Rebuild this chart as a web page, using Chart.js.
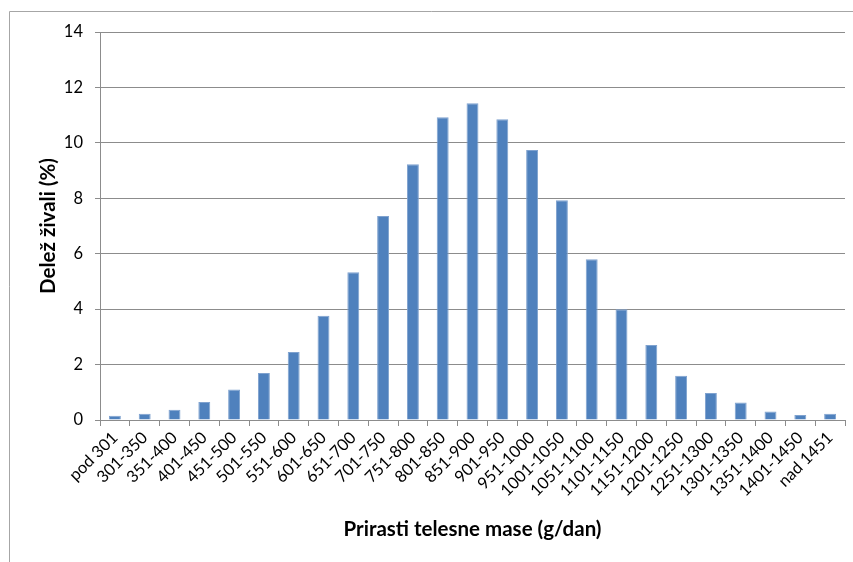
<!DOCTYPE html>
<html>
<head>
<meta charset="utf-8">
<script src="https://cdn.jsdelivr.net/npm/chart.js@4/dist/chart.umd.min.js"></script>
<style>
  html, body { margin: 0; padding: 0; background: #fff; }
  #wrap { width: 853px; height: 562px; position: relative; }
</style>
</head>
<body>
<div id="wrap"><canvas id="prirastChart"></canvas></div>
<script>
// razredi prirasta (g/dan) in delez zivali (%)
var categories = ["pod 301", "301-350", "351-400", "401-450", "451-500", "501-550",
    "551-600", "601-650", "651-700", "701-750", "751-800", "801-850", "851-900",
    "901-950", "951-1000", "1001-1050", "1051-1100", "1101-1150", "1151-1200",
    "1201-1250", "1251-1300", "1301-1350", "1351-1400", "1401-1450", "nad 1451"];
var shares = [0.15, 0.23, 0.37, 0.65, 1.1, 1.7, 2.45, 3.76, 5.33, 7.36, 9.23, 10.92,
    11.43, 10.85, 9.74, 7.93, 5.8, 4.0, 2.71, 1.6, 0.97, 0.63, 0.31, 0.18, 0.23];
var yTicks = [0, 2, 4, 6, 8, 10, 12, 14];

var font = "Lato, 'Open Sans', sans-serif";
var gridGray = "#8c8c8c";

// okvir okoli grafa (kot v Excelu)
var frame = {
    id: "frame",
    afterDraw: function (chart) {
        var ctx = chart.ctx;
        ctx.save();
        ctx.strokeStyle = "#a6a6a6";
        ctx.lineWidth = 1;
        ctx.beginPath();
        ctx.moveTo(9.5, chart.height);
        ctx.lineTo(9.5, 11.5);
        ctx.lineTo(chart.width, 11.5);
        ctx.stroke();
        ctx.restore();
    }
};

new Chart(document.getElementById("prirastChart"), {
    type: "bar",
    data: {
        labels: categories,
        datasets: [{
            label: "Delež živali (%)",
            data: shares,
            backgroundColor: "#4f81bd",
            borderColor: "#7fa2cf",
            borderWidth: { top: 1, left: 1, right: 1, bottom: 0 },
            barPercentage: 0.4,
            categoryPercentage: 1
        }]
    },
    options: {
        responsive: true,
        maintainAspectRatio: false,
        animation: false,
        layout: { padding: { left: 36, top: 32, right: 8, bottom: 18 } },
        plugins: {
            legend: { display: false },
            tooltip: { enabled: false }
        },
        scales: {
            x: {
                grid: {
                    offset: true,
                    drawOnChartArea: false,
                    drawTicks: true,
                    tickLength: 6,
                    color: gridGray
                },
                border: { color: gridGray },
                ticks: {
                    minRotation: 45,
                    maxRotation: 45,
                    autoSkip: false,
                    padding: 2,
                    color: "#000",
                    font: { family: font, size: 16.5 }
                },
                title: {
                    display: true,
                    text: "Prirasti telesne mase (g/dan)",
                    color: "#000",
                    font: { family: font, size: 20.5, weight: "bold" },
                    padding: { top: 4, bottom: 2 }
                },
                afterFit: function (scale) { scale.height = 124; }
            },
            y: {
                min: 0,
                max: 14,
                afterBuildTicks: function (scale) {
                    scale.ticks = yTicks.map(function (v) { return { value: v }; });
                },
                grid: {
                    color: gridGray,
                    tickLength: 5
                },
                border: { color: gridGray },
                ticks: {
                    padding: 12,
                    color: "#000",
                    font: { family: font, size: 16.5 }
                },
                title: {
                    display: true,
                    text: "Delež živali (%)",
                    color: "#000",
                    font: { family: font, size: 20.5, weight: "bold" },
                    padding: 0
                },
                afterFit: function (scale) { scale.width = 64; }
            }
        }
    },
    plugins: [frame]
});
</script>
</body>
</html>
